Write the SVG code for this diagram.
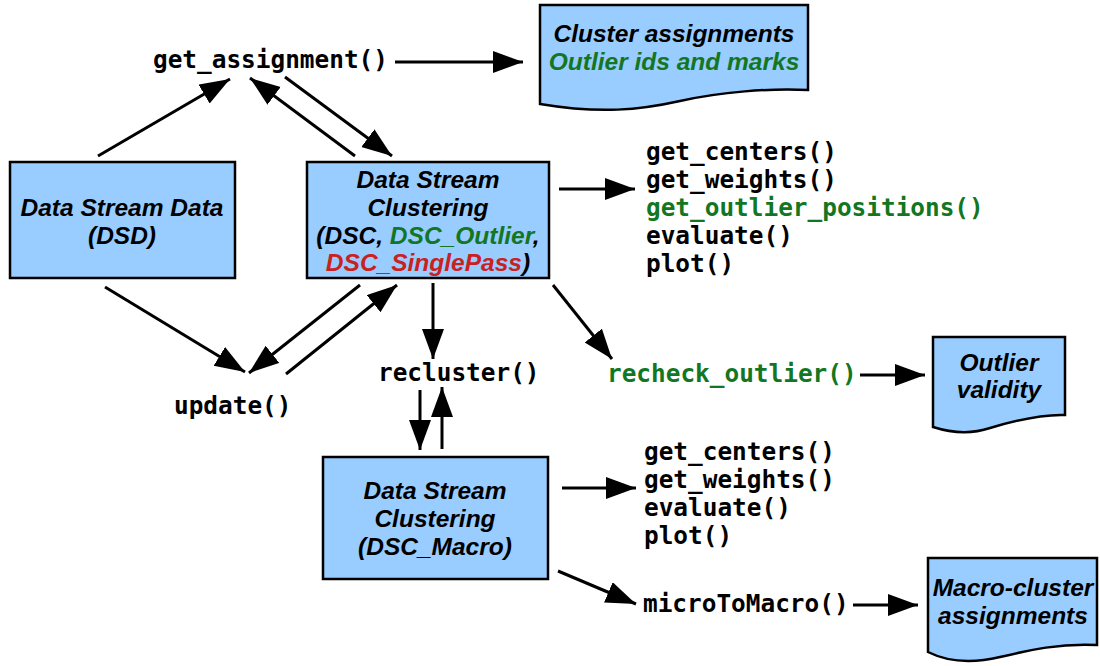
<svg xmlns="http://www.w3.org/2000/svg" width="1100" height="666" viewBox="0 0 1100 666">
<style>
.box{fill:#99ccff;stroke:#000;stroke-width:2.5}
.lbl{font-family:"Liberation Sans",Arial,sans-serif;font-weight:bold;font-style:italic;font-size:24.5px;text-anchor:middle;fill:#000}
.code{font-family:"DejaVu Sans Mono",monospace;font-weight:bold;font-size:24.4px;fill:#000}
.g{fill:#127622}
.r{fill:#c9211e}
.conn line{stroke:#000;stroke-width:3;marker-end:url(#ah)}
</style>
<defs>
<marker id="ah" markerUnits="userSpaceOnUse" markerWidth="32" markerHeight="24" refX="30" refY="11" orient="auto">
<path d="M0,0 L30,11 L0,22 Z" fill="#000"/>
</marker>
</defs>
<rect width="1100" height="666" fill="#fff"/>

<g id="dsd">
<rect class="box" x="10" y="162" width="225" height="116"/>
<text class="lbl" x="122" y="216">Data Stream Data</text>
<text class="lbl" x="122" y="244">(DSD)</text>
</g>

<g id="dsc">
<rect class="box" x="307" y="162" width="242" height="116"/>
<text class="lbl" x="428" y="188">Data Stream</text>
<text class="lbl" x="428" y="216">Clustering</text>
<text class="lbl" x="428" y="244">(DSC, <tspan class="g">DSC_Outlier</tspan>,</text>
<text class="lbl" x="428" y="271"><tspan class="r">DSC_SinglePass</tspan>)</text>
</g>

<g id="macro">
<rect class="box" x="323" y="457" width="225" height="122"/>
<text class="lbl" x="435" y="499">Data Stream</text>
<text class="lbl" x="435" y="527">Clustering</text>
<text class="lbl" x="435" y="555">(DSC_Macro)</text>
</g>

<g id="doc-assign">
<path class="box" d="M540,5 H808 V90 C770,88 720,92 680,101 C640,110 600,114 540,104 Z"/>
<text class="lbl" x="674" y="42">Cluster assignments</text>
<text class="lbl g" x="674" y="70">Outlier ids and marks</text>
</g>

<g id="doc-outlier">
<path class="box" d="M933,337 H1065 V415 C1040,414 1010,422 990,428 C975,433 955,434 933,427 Z"/>
<text class="lbl" x="999" y="371">Outlier</text>
<text class="lbl" x="999" y="398">validity</text>
</g>

<g id="doc-macro">
<path class="box" d="M928,558 H1097 V645 C1060,643 1030,650 1000,657 C975,663 950,663 928,652 Z"/>
<text class="lbl" x="1013" y="596">Macro-cluster</text>
<text class="lbl" x="1013" y="624">assignments</text>
</g>

<g id="m-get-assignment"><text class="code" x="153" y="68">get_assignment()</text></g>
<g id="m-list1">
<text class="code" x="646" y="160">get_centers()</text>
<text class="code" x="646" y="188">get_weights()</text>
<text class="code g" x="646" y="216">get_outlier_positions()</text>
<text class="code" x="646" y="244">evaluate()</text>
<text class="code" x="646" y="272">plot()</text>
</g>
<g id="m-recheck"><text class="code g" x="607" y="382">recheck_outlier()</text></g>
<g id="m-recluster"><text class="code" x="378" y="381">recluster()</text></g>
<g id="m-update"><text class="code" x="174" y="414">update()</text></g>
<g id="m-list2">
<text class="code" x="644" y="460">get_centers()</text>
<text class="code" x="644" y="488">get_weights()</text>
<text class="code" x="644" y="516">evaluate()</text>
<text class="code" x="644" y="544">plot()</text>
</g>
<g id="m-micro"><text class="code" x="643" y="612">microToMacro()</text></g>

<g id="connectors" class="conn">
<line x1="98" y1="156" x2="230" y2="79"/>
<line x1="355" y1="156" x2="250" y2="78"/>
<line x1="285" y1="77" x2="392" y2="156"/>
<line x1="395" y1="62" x2="523" y2="62"/>
<line x1="559" y1="189" x2="635" y2="189"/>
<line x1="553" y1="285" x2="612" y2="359"/>
<line x1="860" y1="375" x2="925" y2="375"/>
<line x1="105" y1="287" x2="245" y2="372"/>
<line x1="360" y1="285" x2="249" y2="373"/>
<line x1="286" y1="374" x2="397" y2="285"/>
<line x1="433" y1="283" x2="433" y2="359"/>
<line x1="420" y1="390" x2="420" y2="450"/>
<line x1="442" y1="449" x2="442" y2="387"/>
<line x1="562" y1="488" x2="636" y2="488"/>
<line x1="558" y1="571" x2="636" y2="604"/>
<line x1="853" y1="605" x2="918" y2="605"/>
</g>
</svg>
